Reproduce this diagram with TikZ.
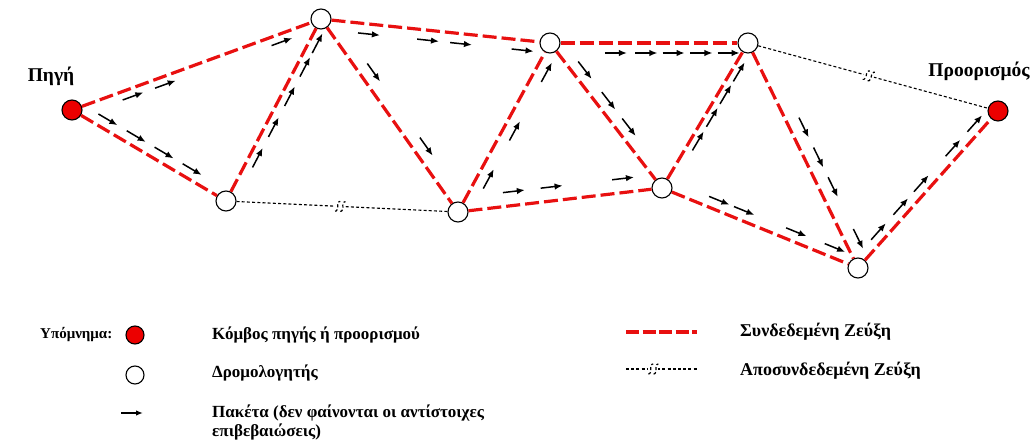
\documentclass[tikz,border=0pt]{standalone}
\usepackage{fontspec}
\setmainfont{Liberation Serif}
\usetikzlibrary{arrows.meta,decorations.markings,calc}

\definecolor{linkred}{RGB}{232,16,16}
\definecolor{nodered}{RGB}{236,0,0}

\begin{document}
\begin{tikzpicture}[x=1pt,y=1pt,
  router/.style={circle,draw=black,line width=1.1pt,fill=white,minimum size=20pt,inner sep=0pt},
  endpoint/.style={router,fill=nodered},
  keyrouter/.style={router,minimum size=18pt},
  keyend/.style={endpoint,minimum size=18pt},
  link/.style={draw=linkred,line width=3.2pt,dash pattern=on 14pt off 5pt},
  down/.style={draw=black,line width=1.1pt,dash pattern=on 3pt off 2.2pt},
  pkt/.style={draw=black,line width=1.5pt,-{Latex[length=8pt,width=6.5pt]}},
  lbl/.style={font=\bfseries\fontsize{17}{19}\selectfont,inner sep=0pt},
  title/.style={font=\bfseries\fontsize{19.5}{22}\selectfont,inner sep=0pt},
  squiggle/.style={draw=black,line width=1.2pt},
  pk side/.store in=\pkside, pk side=8pt,
  % a packet arrow riding beside a link, at a fraction of its length
  pk/.style={postaction={decorate,decoration={markings,
    mark=at position #1 with {\draw[pkt] (-11pt,\pkside) -- (11pt,\pkside);}}}},
  % the two-squiggle break mark of a dropped link
  brk/.style={postaction={decorate,decoration={markings,
    mark=at position #1 with {
      \fill[white] (-5pt,-1.5pt) rectangle (5.5pt,1.5pt);
      \draw[squiggle] (-4.6pt,-5pt) .. controls (-2.6pt,-5.6pt) and (-1.7pt,-1.2pt) .. (-2.2pt,0pt)
                       .. controls (-2.7pt,1.2pt) and (-1.8pt,5.6pt) .. (0.2pt,5pt);
      \draw[squiggle] (0.6pt,-5pt) .. controls (2.6pt,-5.6pt) and (3.5pt,-1.2pt) .. (3pt,0pt)
                       .. controls (2.5pt,1.2pt) and (3.4pt,5.6pt) .. (5.4pt,5pt);}}}},
]
\useasboundingbox (0,0) rectangle (1031,-443);

% nodes of the network
\node[endpoint] (S) at (72,-110) {};
\node[router]   (A) at (226,-201) {};
\node[router]   (B) at (321,-19) {};
\node[router]   (C) at (458,-212) {};
\node[router]   (D) at (550,-43) {};
\node[router]   (E) at (662,-188) {};
\node[router]   (F) at (748,-43) {};
\node[router]   (G) at (858,-268) {};
\node[endpoint] (T) at (998,-111) {};

\node[title] (src) at (51,-76) {Πηγή};
\node[title] (dst) at (979,-71) {Προορισμός};

% working links
\draw[link] (S) -- (B);
\draw[link] (S) -- (A);
\draw[link] (A) -- (B);
\draw[link] (B) -- (D);
\draw[link] (B) -- (C);
\draw[link] (C) -- (D);
\draw[link] (C) -- (E);
\draw[link] (D) -- (E);
\draw[link] (D) -- (F);
\draw[link] (E) -- (F);
\draw[link] (E) -- (G);
\draw[link] (F) -- (G);
\draw[link] (G) -- (T);

% broken links
\draw[down,brk=.49] (A) -- (C);
\draw[down,brk=.48] (F) -- (T);

% packets in flight
\path[pk side=-8pt,pk=.234,pk=.364,pk=.832] (S.center) -- (B.center);
\path[pk side=10pt,pk=.20,pk=.384,pk=.565,pk=.747] (S.center) -- (A.center);
\path[pk side=-8pt,pk=.258,pk=.426,pk=.596,pk=.757,pk=.887] (A.center) -- (B.center);
\path[pk side=-10pt,pk=.214,pk=.472,pk=.616,pk=.885] (B.center) -- (D.center);
\path[pk side=12pt,pk=.313,pk=.697] (B.center) -- (C.center);
\path[pk side=-11pt,pk=.227,pk=.511,pk=.858] (C.center) -- (D.center);
\path[pk side=14pt,pk=.282,pk=.467,pk=.817] (C.center) -- (E.center);
\path[pk side=11pt,pk=.234,pk=.445,pk=.627] (D.center) -- (E.center);
\path[pk side=-10pt,pk=.333,pk=.487,pk=.624,pk=.765,pk=.902] (D.center) -- (F.center);
\path[pk side=-7pt,pk=.349,pk=.512,pk=.670,pk=.825] (E.center) -- (F.center);
\path[pk side=13pt,pk=.401,pk=.534,pk=.666,pk=.896] (F.center) -- (G.center);
\path[pk side=10pt,pk=.273,pk=.40,pk=.666,pk=.863] (E.center) -- (G.center);
\path[pk side=9pt,pk=.194,pk=.353,pk=.50,pk=.726,pk=.882] (G.center) -- (T.center);

% legend
\node[lbl,font=\bfseries\fontsize{15}{17}\selectfont,anchor=west] (key) at (40,-335) {Υπόμνημα:};
\node[keyend]   (kend) at (135,-335) {};
\node[keyrouter] (krt) at (135,-375) {};
\coordinate (kp1) at (121,-413);
\coordinate (kp2) at (143,-413);
\draw[pkt,line width=1.4pt,-{Latex[length=7pt,width=5.5pt]}] (kp1) -- (kp2);
\node[lbl,anchor=west] (tend) at (212,-335) {Κόμβος πηγής ή προορισμού};
\node[lbl,anchor=west] (trt)  at (212,-373) {Δρομολογητής};
\node[lbl,anchor=west] (tpk1) at (212,-413) {Πακέτα (δεν φαίνονται οι αντίστοιχες};
\node[lbl,anchor=west] (tpk2) at (212,-432) {επιβεβαιώσεις)};

\coordinate (kl1) at (626,-332);
\coordinate (kl2) at (697,-332);
\draw[link,line width=4.5pt,dash pattern=on 13pt off 3.5pt] (kl1) -- (kl2);
\coordinate (kd1) at (626,-369);
\coordinate (kd2) at (697,-369);
\draw[down,brk=.38] (kd1) -- (kd2);
\node[lbl,font=\bfseries\fontsize{18}{20}\selectfont,anchor=west] (tlk) at (740,-332) {Συνδεδεμένη Ζεύξη};
\node[lbl,font=\bfseries\fontsize{18}{20}\selectfont,anchor=west] (tdn) at (740,-371) {Αποσυνδεδεμένη Ζεύξη};
\end{tikzpicture}
\end{document}
